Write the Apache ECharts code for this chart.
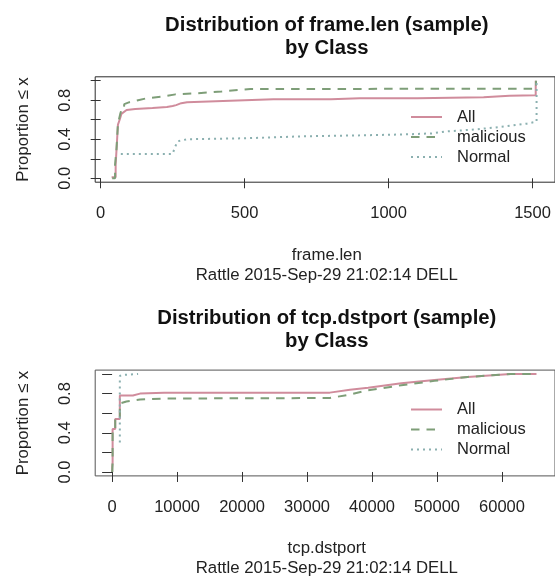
<!DOCTYPE html>
<html>
<head>
<meta charset="utf-8">
<script src="https://cdn.jsdelivr.net/npm/echarts@6/dist/echarts.min.js"></script>
<style>
html,body{margin:0;padding:0;background:#fff;}
#chart{width:555px;height:577px;}
</style>
</head>
<body>
<div id="chart"></div>
<script>
// ---- data ----
const seriesNames = ['All', 'malicious', 'Normal'];

// frame.len ECDF points [x, proportion]
const frameAll = [[38,0.01],[52,0.01],[52,0.14],[55,0.14],[55,0.29],[60,0.29],[60,0.55],[65,0.55],[66,0.60],[70,0.60],[72,0.66],[78,0.68],[90,0.70],[120,0.71],[180,0.72],[230,0.73],[250,0.74],[262,0.75],[280,0.77],[300,0.78],[400,0.79],[500,0.80],[600,0.81],[800,0.81],[900,0.82],[1100,0.82],[1330,0.83],[1420,0.845],[1511,0.85],[1511,1.0]];
const frameMalicious = [[40,0.0],[50,0.0],[50,0.14],[55,0.14],[55,0.30],[60,0.30],[60,0.56],[66,0.56],[68,0.66],[72,0.70],[80,0.70],[82,0.76],[100,0.78],[130,0.80],[160,0.82],[220,0.84],[260,0.86],[330,0.87],[420,0.89],[520,0.915],[1512,0.918],[1512,1.0]];
const frameNormal = [[70,0.25],[250,0.25],[258,0.32],[268,0.38],[300,0.40],[500,0.41],[700,0.43],[900,0.44],[1060,0.45],[1150,0.46],[1200,0.48],[1300,0.50],[1400,0.53],[1480,0.56],[1514,0.58],[1514,1.0]];

// tcp.dstport ECDF points [x, proportion]
const portAll = [[20,0.0],[20,0.05],[80,0.10],[80,0.44],[480,0.44],[480,0.54],[1190,0.54],[1190,0.78],[3200,0.78],[4300,0.80],[8000,0.81],[33500,0.81],[36600,0.84],[39400,0.86],[44500,0.905],[49600,0.94],[54700,0.97],[61300,1.0],[65300,1.0]];
const portMalicious = [[20,0.0],[80,0.10],[80,0.44],[480,0.44],[480,0.54],[1190,0.54],[1190,0.70],[2200,0.72],[4300,0.74],[8000,0.75],[33500,0.755],[36600,0.79],[39400,0.835],[44500,0.885],[49600,0.93],[54700,0.97],[61300,1.0],[65300,1.0]];
const portNormal = [[1190,0.30],[1190,0.98],[1500,0.99],[4000,1.0]];

// tick values / labels
const frameTicks = [0, 500, 1000, 1500];
const portTicks = [0, 10000, 20000, 30000, 40000, 50000, 60000];
const yTicks = [0, 0.2, 0.4, 0.6, 0.8, 1.0];
const yLabels = [0, 0.4, 0.8];

const titles = [
  ['Distribution of frame.len (sample)', 'by Class'],
  ['Distribution of tcp.dstport (sample)', 'by Class']
];
const xNames = ['frame.len', 'tcp.dstport'];
const stamp = 'Rattle 2015-Sep-29 21:02:14 DELL';
const yName = 'Proportion \u2264 x';

// ---- styling ----
const FONT = 'Liberation Sans, Arial, sans-serif';
const colors = { All: '#D08C9C', malicious: '#7E9E78', Normal: '#8BB0B0' };
const lineTypes = { All: 'solid', malicious: [8.5, 7], Normal: [2, 4] };

const chart = echarts.init(document.getElementById('chart'), null, { renderer: 'canvas' });

const gridLeft = 95.2, gridWidth = 463.2;
const grids = [
  { left: gridLeft, top: 76.8, width: gridWidth, height: 105.4, borderColor: '#2a2a2a' },
  { left: gridLeft, top: 370.1, width: gridWidth, height: 105.8, borderColor: '#555' }
];

function xAxisCfg(idx, min, max, ticks) {
  return {
    type: 'value', gridIndex: idx, min: min, max: max,
    axisLine: { show: false },
    splitLine: { show: false },
    axisTick: { show: true, length: 10, customValues: ticks, lineStyle: { color: '#333', width: 1 } },
    axisLabel: { customValues: ticks, margin: 23, fontFamily: FONT, fontSize: 16.5, color: '#222',
      formatter: v => String(Math.round(v)) }
  };
}
function yAxisCfg(idx) {
  return {
    type: 'value', gridIndex: idx, min: -0.04, max: 1.04,
    axisLine: { show: false },
    splitLine: { show: false },
    axisTick: { show: true, length: 10, customValues: yTicks, lineStyle: { color: '#333', width: 1 } },
    axisLabel: { customValues: yLabels, rotate: 90, margin: 21, fontFamily: FONT, fontSize: 16.5, color: '#222',
      formatter: v => Number(v).toFixed(1) }
  };
}

function mkSeries(name, data, idx) {
  return {
    name: name, type: 'line', xAxisIndex: idx, yAxisIndex: idx,
    data: data, symbol: 'none', showSymbol: false,
    lineStyle: { color: colors[name], width: 2, type: lineTypes[name] },
    itemStyle: { color: colors[name] },
    emphasis: { disabled: true }
  };
}

function legendCfg(top) {
  return {
    orient: 'vertical', left: 410, top: top, itemWidth: 31, itemHeight: 14, itemGap: 0,
    data: seriesNames, selectedMode: false, padding: 0,
    itemStyle: { opacity: 0 },
    textStyle: { fontFamily: FONT, fontSize: 16.5, color: '#222', lineHeight: 20, padding: [0, 0, 0, 10] }
  };
}

const graphicTexts = [];
function addText(text, x, y, size, bold, rot) {
  graphicTexts.push({
    type: 'text', x: x, y: y, rotation: rot || 0, silent: true,
    style: { text: text, fill: bold ? '#111' : '#222', textAlign: 'center', textVerticalAlign: 'middle',
      font: (bold ? 'bold ' : '') + size + 'px ' + FONT }
  });
}
const cx = gridLeft + gridWidth / 2;
// top panel texts
addText(titles[0][0], cx, 25, 20.3, true);
addText(titles[0][1], cx, 48.3, 20.3, true);
addText(xNames[0], cx, 255, 16.8, false);
addText(stamp, cx, 275, 16.8, false);
addText(yName, 23, 129.5, 16.8, false, Math.PI / 2);
// bottom panel texts
addText(titles[1][0], cx, 318.3, 20.3, true);
addText(titles[1][1], cx, 341.7, 20.3, true);
addText(xNames[1], cx, 548.3, 16.8, false);
addText(stamp, cx, 568.3, 16.8, false);
addText(yName, 23, 423, 16.8, false, Math.PI / 2);

const option = {
  animation: false,
  backgroundColor: '#fff',
  grid: grids.map(g => Object.assign({ show: true, borderWidth: 1, backgroundColor: 'transparent' }, g)),
  xAxis: [xAxisCfg(0, -19, 1578, frameTicks), xAxisCfg(1, -2600, 68150, portTicks)],
  yAxis: [yAxisCfg(0), yAxisCfg(1)],
  legend: [legendCfg(107), legendCfg(399.5)],
  series: [
    mkSeries('All', frameAll, 0),
    mkSeries('malicious', frameMalicious, 0),
    mkSeries('Normal', frameNormal, 0),
    mkSeries('All', portAll, 1),
    mkSeries('malicious', portMalicious, 1),
    mkSeries('Normal', portNormal, 1)
  ],
  graphic: graphicTexts
};
chart.setOption(option);
</script>
</body>
</html>
